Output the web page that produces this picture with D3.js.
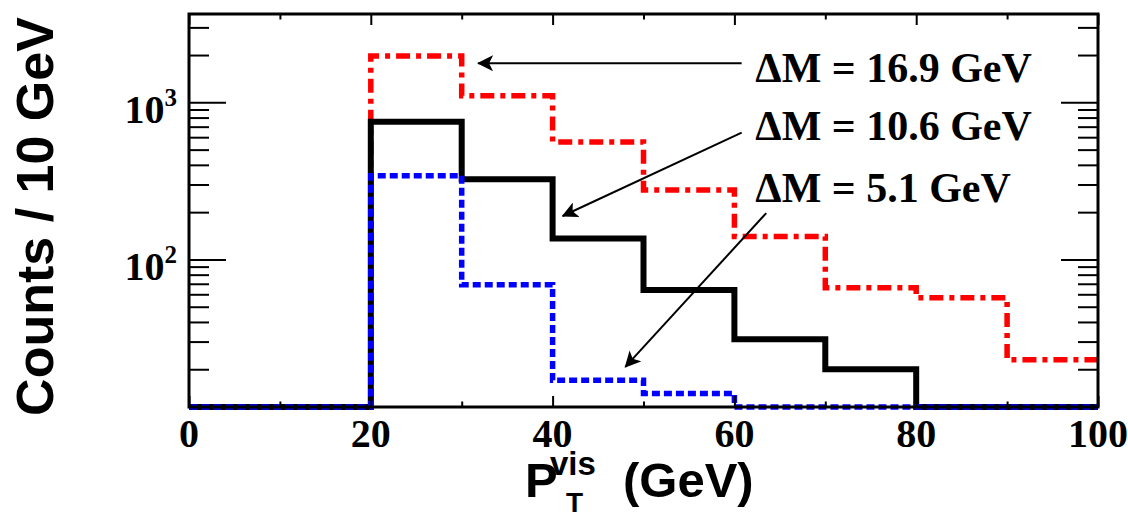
<!DOCTYPE html>
<html>
<head>
<meta charset="utf-8">
<script src="https://cdn.jsdelivr.net/npm/d3@7"></script>
<style>
  html, body { margin: 0; padding: 0; background: #fff; }
  svg { display: block; }
</style>
</head>
<body>
<svg id="chart" width="1128" height="518"></svg>
<script>
// Bin edges of the visible-pT histograms (GeV)
const binEdges = [0, 10, 20, 30, 40, 50, 60, 70, 80, 90, 100];
// Counts per 10 GeV bin for each mass splitting
const countsDM169 = [0, 0, 1970, 1100, 560, 277, 140, 66, 57, 23];
const countsDM106 = [0, 0, 753, 324, 136, 64, 31, 20, 0, 0];
const countsDM51  = [0, 0, 341, 69, 17, 14, 0, 0, 0, 0];
// Axis ticks
const xMajorTicks = [0, 20, 40, 60, 80, 100];
const xMinorTicks = [10, 30, 50, 70, 90];
const yDecades = [100, 1000];
const yExponents = ["2", "3"];
const yMinorTicks = [20, 30, 40, 50, 60, 70, 80, 90, 200, 300, 400, 500, 600, 700, 800, 900, 2000, 3000];
// Annotation labels and the arrows pointing at each curve (data coordinates)
const labelTexts = ["\u0394M = 16.9 GeV", "\u0394M = 10.6 GeV", "\u0394M = 5.1 GeV"];
const labelAnchors = [[62.3, 1353], [62.3, 576], [62.3, 233]];
const arrowTails = [[60.8, 1773], [60.8, 641], [63.5, 197]];
const arrowTips  = [[31.8, 1773], [41.1, 189], [48.0, 20.7]];

const frame = { left: 189, right: 1098, top: 14, bottom: 407 };
const yMin = 11.5, yMax = 3650;

const svg = d3.select("#chart");

const x = d3.scaleLinear().domain([0, 100]).range([frame.left, frame.right]);
const y = d3.scaleLog().domain([yMin, yMax]).range([frame.bottom, frame.top]);

const serif = "'Liberation Serif', 'Times New Roman', serif";
const sans = "'Liberation Sans', Arial, Helvetica, sans-serif";

// Step outline of a histogram; empty bins sit on the lower edge of the frame
function stepPoints(counts) {
  const pts = [];
  counts.forEach((c, i) => {
    const v = Math.max(c, yMin);
    pts.push([binEdges[i], v]);
    pts.push([binEdges[i + 1], v]);
  });
  return pts;
}
const stepLine = d3.line().x(d => x(d[0])).y(d => y(d[1]));

const series = [
  { counts: countsDM169, color: "#ff0000", width: 5.5, dash: "14,6,5,6" },
  { counts: countsDM106, color: "#000000", width: 6, dash: null },
  { counts: countsDM51,  color: "#0000ff", width: 5.5, dash: "8,4" }
];

const defs = svg.append("defs");
defs.append("clipPath").attr("id", "plotClip")
  .append("rect")
  .attr("x", frame.left - 4).attr("y", frame.top)
  .attr("width", frame.right - frame.left + 4).attr("height", frame.bottom - frame.top + 4);

const plot = svg.append("g").attr("clip-path", "url(#plotClip)");
series.forEach(s => {
  plot.append("path")
    .attr("d", stepLine(stepPoints(s.counts)))
    .attr("fill", "none")
    .attr("stroke", s.color)
    .attr("stroke-width", s.width)
    .attr("stroke-linejoin", "miter")
    .attr("stroke-dasharray", s.dash);
});

// Axes: ticks point into the frame on all four sides
function styleAxis(g) {
  g.select(".domain").remove();
  g.selectAll(".tick line").attr("stroke", "#000").attr("stroke-width", 2);
  g.selectAll(".tick text").remove();
}
svg.append("g").attr("transform", `translate(0,${frame.bottom})`)
  .call(d3.axisBottom(x).tickValues(xMajorTicks).tickSize(-11).tickFormat("")).call(styleAxis);
svg.append("g").attr("transform", `translate(0,${frame.bottom})`)
  .call(d3.axisBottom(x).tickValues(xMinorTicks).tickSize(-5.5).tickFormat("")).call(styleAxis);
svg.append("g").attr("transform", `translate(0,${frame.top})`)
  .call(d3.axisTop(x).tickValues(xMajorTicks).tickSize(-11).tickFormat("")).call(styleAxis);
svg.append("g").attr("transform", `translate(0,${frame.top})`)
  .call(d3.axisTop(x).tickValues(xMinorTicks).tickSize(-5.5).tickFormat("")).call(styleAxis);
svg.append("g").attr("transform", `translate(${frame.left},0)`)
  .call(d3.axisLeft(y).tickValues(yDecades).tickSize(-37).tickFormat("")).call(styleAxis);
svg.append("g").attr("transform", `translate(${frame.left},0)`)
  .call(d3.axisLeft(y).tickValues(yMinorTicks).tickSize(-20).tickFormat("")).call(styleAxis);
svg.append("g").attr("transform", `translate(${frame.right},0)`)
  .call(d3.axisRight(y).tickValues(yDecades).tickSize(-37).tickFormat("")).call(styleAxis);
svg.append("g").attr("transform", `translate(${frame.right},0)`)
  .call(d3.axisRight(y).tickValues(yMinorTicks).tickSize(-20).tickFormat("")).call(styleAxis);

// Frame
svg.append("rect")
  .attr("x", frame.left).attr("y", frame.top)
  .attr("width", frame.right - frame.left).attr("height", frame.bottom - frame.top)
  .attr("fill", "none").attr("stroke", "#000").attr("stroke-width", 3);

// X tick labels
svg.append("g").selectAll("text").data(xMajorTicks).join("text")
  .attr("x", d => x(d)).attr("y", 447)
  .attr("text-anchor", "middle")
  .attr("font-family", serif).attr("font-weight", "bold").attr("font-size", 40)
  .text(d => d);

// Y tick labels as powers of ten
const yLab = svg.append("g").selectAll("text").data(yDecades).join("text")
  .attr("x", 177).attr("y", d => y(d) + 21)
  .attr("text-anchor", "end")
  .attr("font-family", serif).attr("font-weight", "bold").attr("font-size", 40);
yLab.append("tspan").text("10");
yLab.append("tspan").attr("font-size", 25).attr("dy", -17).text((d, i) => yExponents[i]);

// Axis titles
svg.append("text")
  .attr("transform", `translate(53,${(frame.top + frame.bottom) / 2 + 6}) rotate(-90)`)
  .attr("text-anchor", "middle")
  .attr("font-family", sans).attr("font-weight", "bold").attr("font-size", 52)
  .text("Counts / 10 GeV");

const xt = svg.append("g").attr("font-family", sans).attr("font-weight", "bold");
xt.append("text").attr("x", 525).attr("y", 497).attr("font-size", 49).text("P");
xt.append("text").attr("x", 550).attr("y", 475).attr("font-size", 33).text("vis");
xt.append("text").attr("x", 566).attr("y", 512).attr("font-size", 28).text("T");
xt.append("text").attr("x", 623).attr("y", 497).attr("font-size", 49).text("(GeV)");

// Annotation arrows
defs.append("marker")
  .attr("id", "arrowHead")
  .attr("viewBox", "0 0 16 16")
  .attr("refX", 15).attr("refY", 8)
  .attr("markerWidth", 16).attr("markerHeight", 16)
  .attr("markerUnits", "userSpaceOnUse")
  .attr("orient", "auto")
  .append("path").attr("d", "M0,0 L16,8 L0,16 L4,8 Z").attr("fill", "#000");

svg.append("g").selectAll("line").data(arrowTails).join("line")
  .attr("x1", d => x(d[0])).attr("y1", d => y(d[1]))
  .attr("x2", (d, i) => x(arrowTips[i][0])).attr("y2", (d, i) => y(arrowTips[i][1]))
  .attr("stroke", "#000").attr("stroke-width", 2)
  .attr("marker-end", "url(#arrowHead)");

svg.append("g").selectAll("text").data(labelTexts).join("text")
  .attr("x", (d, i) => x(labelAnchors[i][0])).attr("y", (d, i) => y(labelAnchors[i][1]))
  .attr("font-family", serif).attr("font-weight", "bold").attr("font-size", 42)
  .text(d => d);
</script>
</body>
</html>
